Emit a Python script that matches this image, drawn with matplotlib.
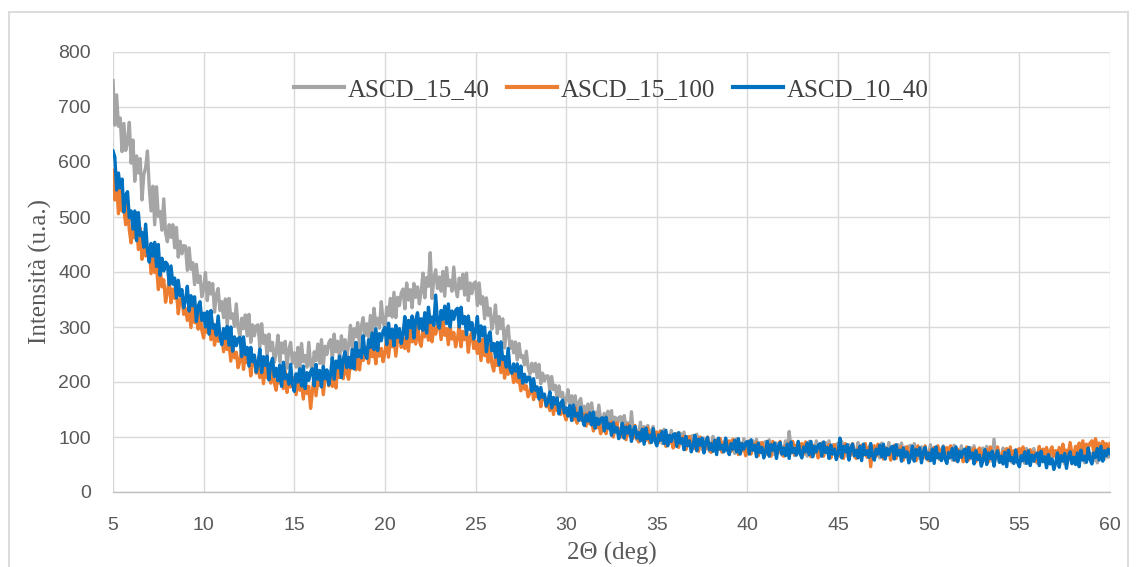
import numpy as np
import matplotlib
matplotlib.use("Agg")
import matplotlib.pyplot as plt
from matplotlib.patches import Rectangle

# 2θ scan, 5° -> 60° sampled every 0.1° (one row = one degree)
two_theta = np.linspace(5, 60, 551)

series_names = ["ASCD_15_40", "ASCD_15_100", "ASCD_10_40"]
series_colors = ["#A5A5A5", "#ED7D31", "#0070C0"]

ascd_15_40 = [
    748, 667, 722, 665, 680, 619, 670, 621, 636, 672,
    598, 640, 565, 611, 580, 606, 531, 577, 590, 620,
    553, 511, 556, 486, 555, 501, 510, 476, 533, 471,
    455, 486, 463, 486, 444, 481, 427, 456, 433, 448,
    447, 403, 444, 405, 417, 377, 414, 381, 393, 355,
    370, 399, 348, 381, 360, 379, 327, 359, 370, 330,
    346, 317, 351, 302, 352, 316, 324, 301, 342, 300,
    283, 316, 297, 322, 284, 323, 272, 304, 284, 302,
    304, 263, 306, 270, 285, 247, 287, 257, 272, 236,
    254, 285, 237, 271, 253, 274, 225, 259, 272, 234,
    253, 227, 263, 218, 270, 237, 248, 227, 272, 232,
    218, 255, 239, 269, 234, 277, 230, 265, 250, 271,
    277, 240, 287, 255, 274, 240, 284, 258, 277, 245,
    267, 303, 258, 297, 282, 308, 262, 301, 317, 284,
    306, 282, 321, 279, 334, 303, 316, 298, 346, 309,
    297, 336, 321, 352, 318, 363, 317, 354, 339, 362,
    369, 333, 380, 349, 368, 335, 379, 354, 373, 342,
    364, 398, 353, 390, 374, 435, 352, 389, 404, 370,
    391, 365, 401, 356, 408, 375, 385, 365, 409, 370,
    355, 389, 370, 396, 358, 398, 348, 380, 361, 379,
    382, 339, 380, 342, 355, 315, 353, 321, 334, 296,
    312, 340, 288, 319, 297, 315, 262, 293, 302, 261,
    274, 253, 273, 240, 270, 245, 248, 231, 256, 227,
    214, 234, 219, 234, 208, 232, 197, 216, 202, 211,
    211, 184, 210, 186, 194, 169, 193, 173, 181, 157,
    167, 186, 154, 175, 162, 175, 142, 163, 170, 145,
    156, 138, 160, 130, 162, 140, 145, 131, 158, 132,
    121, 143, 130, 147, 122, 148, 116, 136, 124, 135,
    137, 111, 139, 116, 126, 102, 146, 108, 118, 95,
    107, 127, 96, 119, 107, 121, 89, 111, 119, 96,
    107, 93, 111, 88, 114, 97, 101, 91, 112, 92,
    84, 103, 93, 107, 88, 109, 84, 101, 92, 101,
    103, 84, 105, 88, 96, 77, 98, 83, 92, 74,
    84, 101, 76, 94, 86, 97, 72, 90, 97, 78,
    88, 75, 92, 70, 97, 80, 84, 75, 97, 76,
    69, 88, 79, 93, 75, 96, 72, 89, 81, 89,
    92, 73, 95, 78, 87, 68, 89, 75, 84, 67,
    76, 93, 69, 110, 79, 90, 66, 84, 91, 73,
    82, 69, 87, 65, 92, 75, 80, 71, 93, 73,
    66, 85, 76, 90, 72, 93, 69, 86, 78, 86,
    89, 70, 92, 75, 84, 65, 86, 72, 81, 64,
    73, 90, 66, 84, 76, 87, 63, 81, 88, 70,
    79, 66, 84, 62, 89, 72, 77, 68, 90, 69,
    62, 81, 72, 86, 68, 89, 65, 82, 74, 83,
    85, 66, 88, 71, 80, 61, 82, 68, 77, 60,
    69, 86, 62, 80, 72, 83, 59, 77, 84, 66,
    75, 62, 80, 58, 85, 67, 72, 63, 84, 65,
    57, 76, 67, 81, 63, 84, 59, 77, 68, 77,
    80, 61, 83, 66, 75, 56, 96, 62, 71, 54,
    63, 80, 56, 74, 66, 77, 53, 70, 77, 59,
    69, 56, 74, 52, 79, 62, 66, 57, 79, 59,
    52, 71, 62, 76, 58, 79, 54, 71, 63, 72,
    75, 56, 78, 61, 70, 51, 72, 58, 67, 51,
    61, 78, 55, 73, 65, 76, 53, 71, 78, 60,
    70, 57, 75, 53, 80, 63, 69, 60, 82, 63,
    72,
]

ascd_15_100 = [
    585, 531, 562, 506, 555, 511, 515, 486, 526, 476,
    453, 486, 462, 486, 441, 480, 423, 453, 429, 444,
    444, 397, 440, 399, 412, 368, 408, 373, 386, 345,
    363, 386, 344, 369, 352, 365, 324, 349, 356, 323,
    334, 312, 337, 299, 338, 308, 314, 296, 328, 294,
    280, 306, 290, 309, 277, 307, 267, 290, 274, 286,
    288, 255, 287, 259, 269, 238, 268, 244, 254, 226,
    238, 263, 223, 250, 235, 250, 211, 238, 247, 216,
    229, 208, 234, 197, 237, 208, 215, 198, 231, 198,
    185, 213, 198, 219, 188, 220, 181, 206, 191, 205,
    208, 177, 212, 185, 198, 169, 202, 179, 192, 152,
    183, 212, 175, 206, 194, 213, 177, 208, 220, 193,
    209, 192, 222, 189, 233, 208, 219, 206, 243, 214,
    205, 236, 225, 249, 222, 257, 222, 250, 239, 256,
    263, 234, 270, 246, 260, 233, 267, 247, 261, 237,
    253, 282, 245, 276, 264, 283, 247, 278, 290, 263,
    279, 261, 290, 256, 299, 273, 283, 269, 305, 275,
    265, 295, 282, 305, 276, 310, 273, 300, 287, 303,
    308, 277, 311, 285, 297, 268, 300, 278, 290, 264,
    278, 304, 264, 292, 277, 293, 254, 282, 291, 261,
    274, 252, 277, 239, 278, 248, 254, 236, 268, 234,
    220, 246, 230, 249, 217, 247, 207, 230, 214, 226,
    222, 199, 220, 200, 206, 184, 204, 187, 193, 173,
    180, 197, 168, 186, 173, 184, 155, 173, 177, 155,
    163, 148, 166, 141, 168, 148, 153, 141, 163, 141,
    131, 150, 139, 153, 131, 153, 125, 143, 131, 141,
    142, 120, 143, 124, 132, 111, 133, 117, 125, 106,
    115, 133, 106, 126, 115, 127, 100, 119, 126, 105,
    115, 100, 120, 95, 123, 104, 110, 98, 121, 100,
    91, 110, 101, 115, 94, 117, 90, 108, 97, 108,
    109, 90, 111, 94, 102, 83, 103, 89, 97, 80,
    89, 106, 81, 99, 90, 101, 77, 94, 101, 82,
    92, 79, 96, 74, 100, 83, 88, 78, 100, 79,
    72, 91, 81, 95, 77, 97, 73, 90, 81, 90,
    93, 74, 96, 78, 87, 68, 89, 75, 83, 66,
    76, 93, 69, 87, 79, 90, 66, 84, 90, 72,
    82, 69, 87, 65, 92, 75, 80, 71, 92, 72,
    65, 84, 75, 89, 71, 92, 68, 85, 77, 85,
    88, 69, 91, 74, 83, 64, 85, 71, 80, 62,
    72, 89, 65, 83, 75, 86, 62, 80, 86, 68,
    78, 65, 83, 61, 88, 71, 76, 67, 88, 68,
    61, 80, 71, 85, 67, 88, 64, 81, 46, 81,
    84, 65, 87, 70, 79, 60, 81, 67, 75, 58,
    68, 85, 61, 79, 71, 82, 58, 76, 82, 64,
    74, 61, 79, 57, 84, 67, 71, 62, 84, 64,
    57, 76, 67, 81, 63, 84, 60, 77, 69, 78,
    81, 62, 84, 67, 76, 57, 78, 63, 72, 55,
    65, 82, 58, 76, 68, 79, 55, 73, 80, 62,
    72, 59, 77, 55, 82, 65, 69, 60, 82, 62,
    55, 74, 65, 79, 61, 82, 58, 75, 67, 76,
    79, 60, 82, 65, 74, 56, 77, 63, 72, 55,
    66, 83, 60, 78, 70, 81, 57, 75, 82, 65,
    75, 62, 81, 59, 87, 70, 76, 67, 90, 70,
    64, 83, 75, 89, 72, 93, 70, 87, 80, 89,
    93, 74, 97, 80, 89, 70, 92, 78, 88, 71,
    88,
]

ascd_10_40 = [
    620, 609, 549, 580, 553, 569, 509, 540, 546, 499,
    511, 478, 511, 457, 508, 466, 472, 445, 487, 439,
    418, 452, 429, 454, 410, 450, 394, 425, 402, 418,
    414, 377, 411, 378, 389, 353, 385, 357, 368, 335,
    348, 374, 329, 357, 339, 355, 310, 338, 346, 312,
    325, 300, 328, 287, 330, 298, 304, 285, 320, 283,
    268, 297, 279, 301, 267, 300, 256, 282, 266, 279,
    281, 246, 282, 250, 263, 229, 263, 237, 249, 218,
    233, 260, 217, 246, 230, 247, 204, 233, 243, 210,
    225, 202, 231, 192, 236, 206, 213, 196, 232, 197,
    183, 215, 200, 224, 193, 229, 188, 217, 203, 219,
    224, 193, 232, 205, 221, 191, 228, 206, 222, 195,
    213, 244, 205, 238, 226, 247, 208, 241, 255, 226,
    245, 226, 259, 224, 272, 246, 257, 244, 284, 253,
    243, 277, 263, 289, 259, 297, 257, 288, 275, 293,
    299, 268, 307, 280, 296, 266, 303, 281, 297, 270,
    288, 319, 279, 312, 299, 320, 280, 313, 326, 297,
    315, 294, 326, 289, 336, 308, 318, 303, 358, 309,
    298, 330, 314, 338, 306, 342, 300, 329, 314, 330,
    334, 300, 336, 306, 319, 286, 320, 295, 308, 278,
    293, 319, 274, 302, 284, 300, 255, 283, 291, 257,
    270, 245, 272, 231, 273, 241, 246, 227, 261, 224,
    216, 233, 220, 233, 208, 229, 198, 214, 200, 209,
    208, 183, 206, 185, 191, 169, 190, 172, 178, 157,
    165, 182, 153, 172, 160, 171, 142, 161, 167, 144,
    153, 138, 157, 130, 158, 138, 143, 130, 154, 131,
    121, 140, 129, 144, 122, 145, 116, 134, 123, 133,
    135, 111, 136, 116, 124, 103, 126, 109, 117, 97,
    107, 125, 98, 118, 107, 120, 92, 112, 119, 98,
    108, 93, 114, 87, 116, 97, 103, 90, 115, 93,
    84, 104, 94, 110, 88, 112, 84, 103, 92, 104,
    106, 83, 108, 89, 97, 77, 101, 84, 93, 73,
    84, 103, 75, 96, 85, 98, 71, 91, 99, 77,
    88, 74, 94, 68, 98, 78, 85, 73, 98, 76,
    68, 88, 78, 94, 73, 97, 69, 88, 78, 89,
    92, 69, 95, 76, 85, 64, 89, 72, 81, 62,
    73, 92, 65, 86, 76, 89, 61, 83, 90, 69,
    80, 66, 87, 61, 91, 72, 79, 67, 92, 70,
    62, 82, 73, 89, 68, 92, 64, 83, 73, 85,
    88, 65, 91, 72, 81, 61, 85, 69, 78, 59,
    70, 98, 62, 83, 73, 86, 58, 80, 87, 66,
    76, 62, 83, 57, 87, 68, 75, 63, 88, 66,
    58, 78, 69, 85, 64, 87, 60, 79, 68, 80,
    83, 60, 86, 67, 76, 56, 80, 64, 73, 53,
    64, 83, 56, 77, 67, 80, 53, 73, 81, 60,
    71, 57, 78, 52, 82, 62, 69, 57, 82, 60,
    52, 72, 63, 79, 58, 82, 55, 74, 63, 75,
    78, 55, 81, 62, 71, 51, 75, 59, 67, 47,
    58, 77, 50, 71, 61, 74, 47, 67, 75, 54,
    65, 51, 72, 46, 76, 57, 63, 52, 76, 54,
    46, 66, 57, 73, 52, 75, 48, 67, 56, 68,
    71, 48, 74, 55, 64, 44, 68, 51, 60, 41,
    52, 71, 45, 66, 56, 70, 43, 64, 73, 52,
    63, 50, 71, 46, 76, 58, 65, 54, 80, 59,
    51, 71, 63, 79, 58, 83, 56, 75, 66, 78,
    70,
]

x_ticks = [5, 10, 15, 20, 25, 30, 35, 40, 45, 50, 55, 60]
y_ticks = [0, 100, 200, 300, 400, 500, 600, 700, 800]

serif = ["Liberation Serif", "DejaVu Serif"]
tick_font = ["Liberation Sans", "DejaVu Sans"]

fig = plt.figure(figsize=(11.37, 5.67), dpi=100)
ax = fig.add_axes([113 / 1137, 1 - 492 / 567, 997 / 1137, 440 / 567])

# outer chart frame
fig.patches.append(Rectangle((9 / 1137, -0.05), 1119 / 1137, 1.05 - 12 / 567,
                             transform=fig.transFigure, fill=False,
                             edgecolor="#D9D9D9", linewidth=1.3, zorder=0))

for values, name, color in zip([ascd_15_40, ascd_15_100, ascd_10_40], series_names, series_colors):
    assert len(values) == len(two_theta), name
    ax.plot(two_theta, values, color=color, linewidth=2.4, label=name,
            solid_joinstyle="round", zorder=3)

ax.set_xlim(5, 60)
ax.set_ylim(0, 800)
ax.set_xticks(x_ticks)
ax.set_yticks(y_ticks)
ax.grid(True, color="#D9D9D9", linewidth=1.0, zorder=0)
ax.set_axisbelow(True)
for side in ["top", "right", "left"]:
    ax.spines[side].set_visible(False)
ax.spines["bottom"].set_color("#BFBFBF")
ax.spines["bottom"].set_linewidth(1.0)
ax.tick_params(length=0, labelcolor="#595959", labelsize=14)
for lab in ax.get_xticklabels() + ax.get_yticklabels():
    lab.set_family(tick_font)
ax.tick_params(axis="y", pad=16)
ax.tick_params(axis="x", pad=18)

ax.set_xlabel("2Θ (deg)", family=serif, fontsize=18, color="#595959", labelpad=6)
ax.set_ylabel("Intensità (u.a.)", family=serif, fontsize=18, color="#595959", labelpad=4)

leg = ax.legend(loc="center", bbox_to_anchor=(0.5, 0.914), ncol=3, frameon=False,
                prop={"family": serif, "size": 18}, handlelength=2.0,
                handletextpad=0.15, columnspacing=0.7, borderaxespad=0)
for line in leg.get_lines():
    line.set_linewidth(3)
for txt in leg.get_texts():
    txt.set_color("#404040")

fig.savefig("out.png", dpi=100)
